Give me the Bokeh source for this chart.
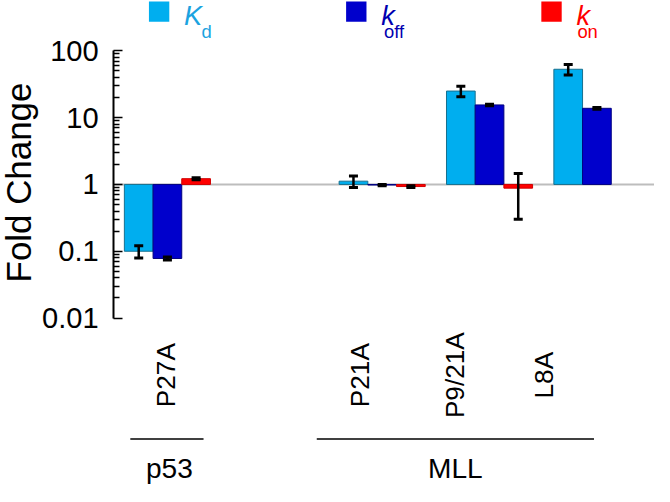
import math
from bokeh.plotting import figure
from bokeh.models import (ColumnDataSource, Range1d, LogAxis, FixedTicker,
                          CustomJSTickFormatter, Whisker, TeeHead)
from bokeh.core.properties import value
from bokeh.embed import file_html
from bokeh.resources import INLINE

# ---------------- data ----------------
mutants = ["P27A", "P21A", "P9/21A", "L8A"]
mutant_slot = [0, 2, 3, 4]
proteins = ["p53", "MLL"]
kd = [0.100, 1.12, 25.0, 53.0]
kd_err = [0.021, 0.22, 4.5, 9.5]
koff = [0.078, 0.98, 15.5, 13.8]
koff_err = [0.004, 0.02, 0.4, 0.4]
kon = [1.22, 0.93, 0.88, float("nan")]
kon_err = [0.04, 0.03, 0.58, float("nan")]
y_ticks = [0.01, 0.1, 1, 10, 100]
y_label = "Fold Change"

# ---------------- layout (reference pixel frame) ----------------
REF_W, REF_H = 670, 502
W, H = 654, 486
SLOT_PX, X0_PX = 110.0, 171.0
DEC_PX, Y100_PX = 69.0, 52.0
S = 0.97
FONT = "Liberation Sans"


def rx(px):
    return (px - X0_PX) / SLOT_PX


def ry(py):
    return 10 ** (2 - (py - Y100_PX) / DEC_PX)


def fs(n):
    return f"{n * S:.1f}px"


p = figure(width=W, height=H, output_backend="svg", toolbar_location=None,
           x_range=Range1d(rx(0), rx(REF_W)), y_range=Range1d(ry(REF_H), ry(0)),
           y_axis_type="log", x_axis_location=None, y_axis_location=None,
           min_border=0, min_border_left=0, min_border_right=0,
           min_border_top=0, min_border_bottom=0)
p.outline_line_color = None
p.grid.visible = False
p.background_fill_color = "white"
p.border_fill_color = "white"

# baseline at fold change = 1
p.segment(x0=[rx(116)], y0=[1], x1=[rx(REF_W)], y1=[1],
          line_color="#BDBDBD", line_width=2)

BW = 29.4 / SLOT_PX
series = [
    ("Kd", kd, kd_err, "#00AEEF", "#17708F", -BW),
    ("koff", koff, koff_err, "#0000CC", "#000080", 0.0),
    ("kon", kon, kon_err, "#FF0000", "#D00000", BW),
]
for name, vals, errs, fill, line, off in series:
    xs, tops, ups, los = [], [], [], []
    for s, v, e in zip(mutant_slot, vals, errs):
        if v != v:
            continue
        xs.append(s + off)
        tops.append(v)
        ups.append(v + e)
        los.append(v - e)
    src = ColumnDataSource(dict(x=xs, top=tops, upper=ups, lower=los))
    p.vbar(x="x", top="top", bottom=1, width=BW, source=src,
           fill_color=fill, line_color=line, line_width=1)
    w = Whisker(source=src, base="x", upper="upper", lower="lower",
                dimension="height", line_color="black", line_width=2.5,
                upper_head=TeeHead(size=9, line_width=3, line_color="black"),
                lower_head=TeeHead(size=9, line_width=3, line_color="black"),
                level="overlay")
    p.add_layout(w)

# y axis
minor = [m * 10 ** e for e in range(-2, 2) for m in range(2, 10)]
yaxis = LogAxis(fixed_location=rx(116), bounds=(y_ticks[0], y_ticks[-1]),
                ticker=FixedTicker(ticks=y_ticks, minor_ticks=minor),
                formatter=CustomJSTickFormatter(code="return tick.toString();"))
yaxis.axis_line_width = 2
yaxis.axis_line_color = "black"
yaxis.major_tick_in = 9
yaxis.major_tick_out = 0
yaxis.minor_tick_in = 6
yaxis.minor_tick_out = 0
yaxis.major_tick_line_width = 1.5
yaxis.minor_tick_line_width = 1.5
yaxis.major_tick_line_color = "black"
yaxis.minor_tick_line_color = "black"
yaxis.major_label_standoff = 15
yaxis.major_label_text_font = FONT
yaxis.major_label_text_font_size = fs(30)
yaxis.major_label_text_color = "black"
p.add_layout(yaxis, "left")

# y label
p.text(x=[rx(18)], y=[ry(188)], text=[y_label], angle=math.pi / 2,
       text_align="center", text_baseline="middle",
       text_font=value(FONT), text_font_size=fs(36), text_color="black")

# mutant labels (vertical)
label_px = [170, 368, 466, 557]
p.text(x=[rx(v) for v in label_px], y=[ry(387)] * 4, text=mutants,
       angle=math.pi / 2, text_align="center", text_baseline="middle",
       text_font=value(FONT), text_font_size=fs(27), text_color="black")

# protein groups
p.segment(x0=[rx(133), rx(324)], y0=[ry(453)] * 2,
          x1=[rx(208), rx(608)], y1=[ry(453)] * 2,
          line_color="black", line_width=1.5)
p.text(x=[rx(173), rx(466)], y=[ry(483)] * 2, text=proteins,
       text_align="center", text_baseline="middle",
       text_font=value(FONT), text_font_size=fs(29), text_color="black")

# legend
leg_sq = [162.5, 364.5, 564.5]
leg_fill = ["#00AEEF", "#0000CC", "#FF0000"]
leg_text_col = ["#1BA3E0", "#0000B0", "#FF0000"]
p.rect(x=[rx(v) for v in leg_sq], y=[ry(11.5)] * 3, width=21 * S, height=21 * S,
       width_units="screen", height_units="screen",
       fill_color=leg_fill, line_color=None)
p.text(x=[rx(188), rx(390), rx(590)], y=[ry(15)] * 3, text=["K", "k", "k"],
       text_align="left", text_baseline="middle", text_font_style="italic",
       text_font=value(FONT), text_font_size=fs(28), text_color=leg_text_col)
p.text(x=[rx(206), rx(393), rx(591)], y=[ry(32)] * 3, text=["d", "off", "on"],
       text_align="left", text_baseline="middle",
       text_font=value(FONT), text_font_size=fs(19), text_color=leg_text_col)

open("out.html", "w").write(file_html(p, INLINE))
